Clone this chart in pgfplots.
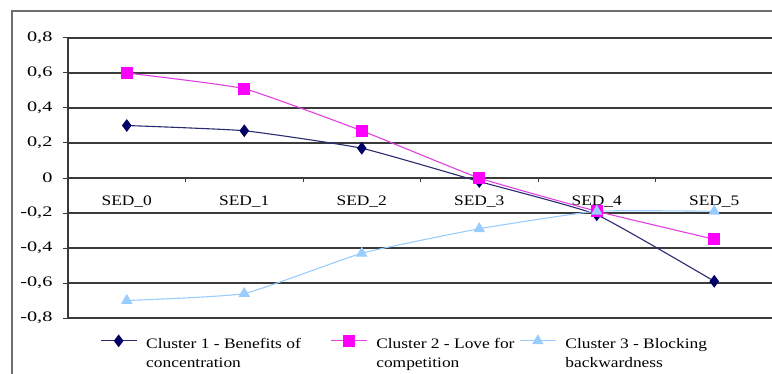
\documentclass[border=0pt]{standalone}
\usepackage{fontspec}
\setmainfont{Liberation Serif}[FakeStretch=1.2]
\newfontfamily\widefont{Liberation Serif}[FakeStretch=1.4]
\usepackage{pgfplots}
\pgfplotsset{compat=1.18}
\definecolor{cnavy}{HTML}{000066}
\definecolor{cnavyline}{HTML}{2A2A70}
\definecolor{cmag}{HTML}{FF00FF}
\definecolor{cmagline}{HTML}{E040E0}
\definecolor{clblue}{HTML}{99CCFF}
\definecolor{gridc}{HTML}{3A3A3A}
\definecolor{framec}{HTML}{6E6E6E}

\begin{document}
\begin{tikzpicture}[x=1pt,y=1pt,font=\fontsize{14.5}{18.5}\selectfont]
\begin{scope}
\clip (0,0) rectangle (772,373);
% chart area frame
\draw[framec, line width=1.6pt] (12,-20) rectangle (800,362);
\begin{axis}[
  at={(420.5pt,195pt)}, anchor=center,
  scale only axis, width=705pt, height=280pt,
  xmin=-0.5, xmax=5.5, ymin=-0.8, ymax=0.8,
  clip=false,
  axis y line=left, axis x line=middle,
  axis line style={-, draw=gridc, line width=1.2pt},
  xtick={0,1,2,3,4,5},
  xticklabels={SED\_0,SED\_1,SED\_2,SED\_3,SED\_4,SED\_5},
  minor xtick={0.5,1.5,2.5,3.5,4.5},
  major x tick style={draw=none},
  minor x tick style={draw=gridc, line width=0.8pt},
  minor tick length=4pt,
  ytick={-0.8,-0.6,-0.4,-0.2,0,0.2,0.4,0.6,0.8},
  yticklabels={{-0,8},{-0,6},{-0,4},{-0,2},0,{0,2},{0,4},{0,6},{0,8}},
  major tick length=5pt,
  tick align=outside,
  y tick style={draw=gridc, line width=1pt},
  ymajorgrids,
  grid style={draw=gridc, line width=1.2pt},
  xticklabel style={yshift=-9pt},
  yticklabel style={xshift=-7pt, font=\widefont\fontsize{14.5}{17}\selectfont},
  legend columns=3,
  legend style={at={(0.041,-0.054)}, anchor=north west, draw=none, fill=none,
    /tikz/every even column/.append style={column sep=0pt},
    /tikz/every odd column/.append style={column sep=5pt},
    nodes={inner xsep=4pt, inner ysep=0pt}},
  legend cell align=left,
  legend image code/.code={%
    \draw[mark repeat=2,mark phase=2,#1] plot coordinates {(0pt,3.5pt)(18pt,3.5pt)(36pt,3.5pt)};},
]
\addplot[cnavyline, line width=1.1pt, smooth, tension=0.25,
  mark=diamond*, mark size=5.5pt, mark options={fill=cnavy, draw=cnavy}]
  coordinates {(0,0.30) (1,0.27) (2,0.17) (3,-0.02) (4,-0.21) (5,-0.59)};
\addlegendentry{\parbox[t]{180pt}{Cluster 1 - Benefits of\\concentration}}
\addplot[cmagline, line width=1.1pt, smooth, tension=0.25,
  mark=square*, mark size=5.5pt, mark options={fill=cmag, draw=cmag}]
  coordinates {(0,0.60) (1,0.51) (2,0.27) (3,0.00) (4,-0.19) (5,-0.35)};
\addlegendentry{\parbox[t]{139pt}{Cluster 2 - Love for\\competition}}
\addplot[clblue, line width=1.1pt, smooth, tension=0.25,
  mark=triangle*, mark size=5.5pt, mark options={fill=clblue, draw=clblue}]
  coordinates {(0,-0.70) (1,-0.66) (2,-0.43) (3,-0.29) (4,-0.19) (5,-0.19)};
\addlegendentry{\parbox[t]{170pt}{Cluster 3 - Blocking\\backwardness}}
\end{axis}
\end{scope}
\pgfresetboundingbox
\path[use as bounding box] (0,0) rectangle (772,373);
\end{tikzpicture}
\end{document}
